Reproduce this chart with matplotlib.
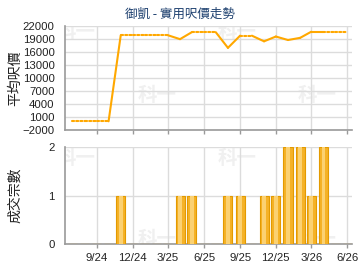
import matplotlib
matplotlib.use("Agg")
import matplotlib.pyplot as plt
import pandas as pd

# monthly data (Jul 2024 .. Jun 2026)
months = pd.date_range("2024-07-01", "2026-06-01", freq="MS")
avg_price = [0, 0, 0, 0, 19800, 19800, 19800, 19800, 19800, 18900, 20500, 20500,
             20500, 16900, 19700, 19700, 18400, 19500, 18700, 19200, 20600, 20600,
             20600, 20600]
deals = [0, 0, 0, 0, 1, 0, 0, 0, 0, 1, 1, 0,
         0, 1, 1, 0, 1, 1, 2, 2, 1, 2, 0, 0]

title = "御凱 - 實用呎價走勢"
ylabel_top = "平均呎價"
ylabel_bot = "成交宗數"
price_ticks = [22000, 19000, 16000, 13000, 10000, 7000, 4000, 1000, -2000]
deal_ticks = [0, 1, 2]
xtick_dates = pd.to_datetime(["2024-09-01", "2024-12-01", "2025-03-01", "2025-06-01",
                              "2025-09-01", "2025-12-01", "2026-03-01", "2026-06-01"])
xtick_labels = ["9/24", "12/24", "3/25", "6/25", "9/25", "12/25", "3/26", "6/26"]

cjk = ["Noto Sans CJK TC", "DejaVu Sans"]
num_font = "Liberation Sans"
grid_c = "#dcdcdc"
axis_c = "#9a9a9a"
line_c = "#FFA800"

fig = plt.figure(figsize=(3.6, 2.7), dpi=100)
fig.patch.set_facecolor("white")

xmin = pd.Timestamp("2024-06-12")
xmax = pd.Timestamp("2026-06-13")


def style_axes(ax):
    ax.set_xlim(xmin, xmax)
    ax.set_xticks(xtick_dates)
    for s in ["top", "right"]:
        ax.spines[s].set_visible(False)
    for s in ["left", "bottom"]:
        ax.spines[s].set_color(axis_c)
        ax.spines[s].set_linewidth(1.2)
    ax.grid(True, color=grid_c, linewidth=1)
    ax.set_axisbelow(True)
    ax.tick_params(axis="y", length=0, pad=7.5, labelsize=8.2, labelcolor="#222222")
    ax.tick_params(axis="x", length=3, width=1, color=axis_c, pad=3,
                   labelsize=8.2, labelcolor="#222222")
    for lab in ax.get_yticklabels() + ax.get_xticklabels():
        lab.set_fontfamily(num_font)


def watermark(ax, pts):
    for (x, y) in pts:
        ax.text(x, y, "科一", transform=ax.transAxes, fontsize=14, fontweight="bold",
                color="#f0f0f0", family=cjk, ha="center", va="center", zorder=0,
                clip_on=True)


#-------------------------------------------
ax = fig.add_axes([65 / 360, 1 - 130 / 270, 287 / 360, 104.33 / 270])
ax.set_ylim(-2000, 22000)
ax.set_yticks(price_ticks)
ax.set_xticks(xtick_dates)
ax.set_xticklabels([])
style_axes(ax)
watermark(ax, [(0.04, 0.93), (0.32, 0.33), (0.60, 0.93), (0.88, 0.33)])

for i in range(1, len(months)):
    ls = "-" if deals[i] > 0 else (0, (1, 1))
    ax.plot(months[i - 1:i + 1], avg_price[i - 1:i + 1], color=line_c,
            linewidth=1.5, linestyle=ls, solid_capstyle="round",
            dash_capstyle="round", zorder=3)

#-------------------------------------------
ax2 = fig.add_axes([65 / 360, 1 - 244.3 / 270, 287 / 360, 97 / 270])
ax2.set_ylim(0, 2)
ax2.set_yticks(deal_ticks)
ax2.set_xticks(xtick_dates)
ax2.set_xticklabels(xtick_labels)
style_axes(ax2)
watermark(ax2, [(0.04, 0.88), (0.32, 0.05), (0.60, 0.88), (0.88, 0.05)])

bar_w = pd.Timedelta(days=23)
ax2.bar(months, deals, width=bar_w, color="#F5B227", edgecolor="#E39A00",
        linewidth=0.8, zorder=3)
ax2.bar(months, deals, width=pd.Timedelta(days=9), color="#FBD172",
        linewidth=0, zorder=4)

#-------------------------------------------
fig.text(180 / 360, 1 - 14 / 270, title, ha="center", va="center", fontsize=9,
         color="#1c3f6e", family=cjk)
fig.text(15 / 360, 1 - 78 / 270, ylabel_top, ha="center", va="center", fontsize=10,
         rotation=90, color="#222222", family=cjk)
fig.text(15 / 360, 1 - 195 / 270, ylabel_bot, ha="center", va="center", fontsize=10,
         rotation=90, color="#222222", family=cjk)

fig.savefig("out.png", dpi=100)
